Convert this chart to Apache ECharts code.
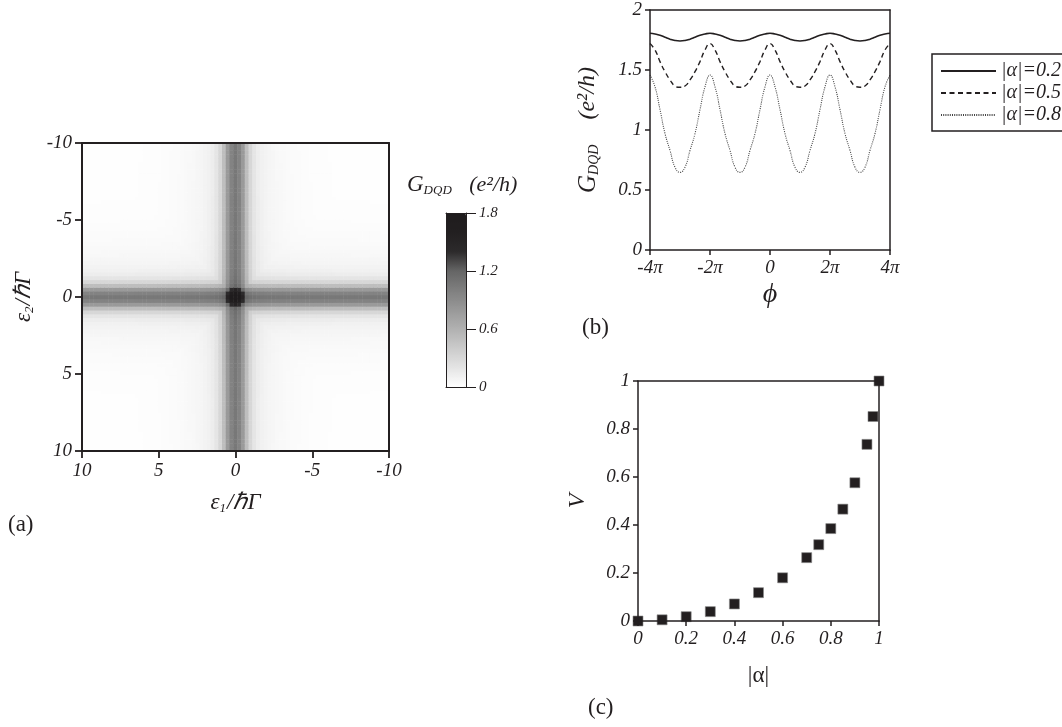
<!DOCTYPE html>
<html><head><meta charset="utf-8">
<script src="https://cdn.jsdelivr.net/npm/echarts@6/dist/echarts.min.js"></script>
<style>html,body{margin:0;padding:0;background:#fff}#c{width:1062px;height:727px}</style>
</head><body><div id="c"></div>
<script>
// ---------- data: panel (a) ----------
const epsTicks = [10, 5, 0, -5, -10];
// conductance across a band vs. distance from its centre line (steps of 0.25 in eps/hbar Gamma)
const bandProfile = [1.05, 0.97, 0.78, 0.50, 0.30, 0.19, 0.135, 0.105, 0.085, 0.072,
  0.062, 0.054, 0.047, 0.041, 0.036, 0.032, 0.028, 0.025, 0.022, 0.019,
  0.017, 0.015, 0.013, 0.012, 0.011, 0.010, 0.009, 0.008, 0.008, 0.007,
  0.007, 0.006, 0.006, 0.005, 0.005, 0.005, 0.004, 0.004, 0.004, 0.003, 0.003];
// resonance dot at the crossing (7x7 cells around the centre, 0 = use band value)
const dotPatch = [
  [0,    0,    1.05, 1.10, 1.05, 0,    0   ],
  [0,    1.15, 1.40, 1.52, 1.40, 1.15, 0   ],
  [1.05, 1.40, 1.70, 1.78, 1.70, 1.40, 1.05],
  [1.10, 1.52, 1.78, 1.80, 1.78, 1.52, 1.10],
  [1.05, 1.40, 1.70, 1.78, 1.70, 1.40, 1.05],
  [0,    1.15, 1.40, 1.52, 1.40, 1.15, 0   ],
  [0,    0,    1.05, 1.10, 1.05, 0,    0   ]
];
const colorbarTicks = [0, 0.6, 1.2, 1.8];
const grayStops = ['#ffffff','#e4e4e4','#cbcbcb','#b1b1b1','#989898','#7f7f7f','#656565','#2c2a2b','#221f20','#1f1c1d'];

// ---------- data: panel (b) ----------
// phi in units of pi/6, from -4pi to 4pi
const phiSixths = [-24,-23,-22,-21,-20,-19,-18,-17,-16,-15,-14,-13,-12,-11,-10,-9,-8,-7,-6,-5,-4,-3,-2,-1,0,
  1,2,3,4,5,6,7,8,9,10,11,12,13,14,15,16,17,18,19,20,21,22,23,24];
const gAlpha02 = [1.806,1.800,1.790,1.773,1.757,1.746,1.742,1.746,1.757,1.773,1.790,1.800,
  1.806,1.800,1.790,1.773,1.757,1.746,1.742,1.746,1.757,1.773,1.790,1.800,
  1.806,1.800,1.790,1.773,1.757,1.746,1.742,1.746,1.757,1.773,1.790,1.800,
  1.806,1.800,1.790,1.773,1.757,1.746,1.742,1.746,1.757,1.773,1.790,1.800,1.806];
const gAlpha05 = [1.720,1.667,1.570,1.486,1.417,1.367,1.356,1.367,1.417,1.486,1.570,1.667,
  1.720,1.667,1.570,1.486,1.417,1.367,1.356,1.367,1.417,1.486,1.570,1.667,
  1.720,1.667,1.570,1.486,1.417,1.367,1.356,1.367,1.417,1.486,1.570,1.667,
  1.720,1.667,1.570,1.486,1.417,1.367,1.356,1.367,1.417,1.486,1.570,1.667,1.720];
const gAlpha08 = [1.458,1.360,1.170,0.970,0.830,0.690,0.647,0.690,0.830,0.970,1.170,1.360,
  1.458,1.360,1.170,0.970,0.830,0.690,0.647,0.690,0.830,0.970,1.170,1.360,
  1.458,1.360,1.170,0.970,0.830,0.690,0.647,0.690,0.830,0.970,1.170,1.360,
  1.458,1.360,1.170,0.970,0.830,0.690,0.647,0.690,0.830,0.970,1.170,1.360,1.458];
const seriesNames = ['|α|=0.2', '|α|=0.5', '|α|=0.8'];

// ---------- data: panel (c) ----------
const alphaVals = [0, 0.1, 0.2, 0.3, 0.4, 0.5, 0.6, 0.7, 0.75, 0.8, 0.85, 0.9, 0.95, 0.975, 1];
const visibility = [0, 0.005, 0.018, 0.039, 0.071, 0.118, 0.180, 0.264, 0.318, 0.385, 0.466, 0.576, 0.736, 0.852, 1.0];

// ---------- build ----------
const N = bandProfile.length - 1;           // 40 cells per half
const cats = [];
for (let i = -N; i <= N; i++) cats.push(String(-i * 0.25));
const cells = [];
for (let ix = 0; ix <= 2 * N; ix++) {
  for (let iy = 0; iy <= 2 * N; iy++) {
    const dx = Math.abs(ix - N), dy = Math.abs(iy - N);
    const a = bandProfile[dx], b = bandProfile[dy];
    let v = Math.max(a, b) + 0.25 * Math.min(a, b);
    if (dx <= 3 && dy <= 3) {
      const p = dotPatch[iy - N + 3][ix - N + 3];
      if (p > v) v = p;
    }
    cells.push([ix, iy, Math.min(v, 1.8)]);
  }
}
const zip = (xs, ys) => xs.map((x, i) => [x, ys[i]]);

const FONT = 'Liberation Serif';
const INK = '#231f20';
const lab = (size) => ({ fontFamily: FONT, fontStyle: 'italic', fontWeight: 'normal', fontSize: size, color: INK });
const lineOnly = (extra) => Object.assign({
  type: 'value', min: 0, max: 1, z: 10,
  axisLine: { show: true, onZero: false, lineStyle: { color: INK, width: 1.5 } },
  axisTick: { show: false }, axisLabel: { show: false }, splitLine: { show: false }
}, extra);
const mkRich = (big, small, lh) => ({
  a: { fontFamily: FONT, fontStyle: 'italic', fontWeight: 'normal', fontSize: big, color: INK, lineHeight: lh, verticalAlign: 'middle' },
  s: { fontFamily: FONT, fontStyle: 'italic', fontWeight: 'normal', fontSize: small, color: INK, verticalAlign: 'bottom', lineHeight: small, padding: [0, 1, 2, 0] },
  u: { fontFamily: FONT, fontStyle: 'italic', fontWeight: 'normal', fontSize: big - 1, color: INK, lineHeight: lh, verticalAlign: 'middle' }
});
const panelLabel = { fontFamily: FONT, fontSize: 23, fontWeight: 'normal', color: INK };

const chart = echarts.init(document.getElementById('c'), null, { renderer: 'canvas' });
chart.setOption({
  animation: false,
  backgroundColor: '#fff',
  title: [
    { text: '(a)', left: 8, top: 513, padding: 0, textStyle: panelLabel },
    { text: '(b)', left: 582, top: 316, padding: 0, textStyle: panelLabel },
    { text: '(c)', left: 588, top: 696, padding: 0, textStyle: panelLabel },
    { text: '{a|G}{s|DQD}{u|   (e²/h)}', left: 407, top: 171, padding: 0, textStyle: { rich: mkRich(23, 13, 28) } }
  ],
  legend: {
    data: seriesNames, orient: 'vertical', left: 932, top: 54,
    itemWidth: 55, itemHeight: 12, itemGap: 0,
    itemStyle: { opacity: 0 },
    borderColor: INK, borderWidth: 1.5, padding: [6, 30, 5, 8],
    textStyle: Object.assign(lab(20), { lineHeight: 22 })
  },
  visualMap: {
    type: 'continuous', seriesIndex: 0, min: 0, max: 1.8, calculable: false,
    show: true, left: 446, top: 213, itemWidth: 20, itemHeight: 174, padding: 0,
    text: null, inRange: { color: grayStops }
  },
  grid: [
    { left: 82, top: 143, width: 307, height: 308 },
    { left: 82, top: 143, width: 307, height: 308 },
    { left: 446, top: 213, width: 20, height: 174 },
    { left: 650, top: 10, width: 240, height: 240 },
    { left: 638, top: 381, width: 241, height: 240 }
  ],
  xAxis: [
    { type: 'category', gridIndex: 0, data: cats, show: false },
    { type: 'value', gridIndex: 1, min: -10, max: 10, interval: 5, inverse: true, position: 'bottom', z: 10,
      axisLine: { onZero: false, lineStyle: { color: INK, width: 2 } },
      axisTick: { length: 7, lineStyle: { color: INK, width: 1.8 } },
      axisLabel: Object.assign(lab(19), { margin: 10 }), splitLine: { show: false },
      name: '{a|ε}{s|1}{a|/ℏΓ}', nameLocation: 'middle', nameGap: 38, nameTextStyle: { rich: mkRich(23, 13, 28) } },
    lineOnly({ gridIndex: 1, position: 'top', axisLine: { onZero: false, lineStyle: { color: INK, width: 2 } } }),
    lineOnly({ gridIndex: 2, position: 'bottom', axisLine: { onZero: false, lineStyle: { color: INK, width: 1 } } }),
    lineOnly({ gridIndex: 2, position: 'top', axisLine: { onZero: false, lineStyle: { color: INK, width: 1 } } }),
    { type: 'value', gridIndex: 3, min: -24, max: 24, interval: 12, z: 10,
      axisLine: { onZero: false, lineStyle: { color: INK, width: 1.5 } },
      axisTick: { length: 5, lineStyle: { color: INK, width: 1.5 } },
      axisLabel: Object.assign(lab(19), { margin: 8, formatter: v => v === 0 ? '0' : (v / 6) + 'π' }),
      splitLine: { show: false },
      name: 'ϕ', nameLocation: 'middle', nameGap: 31, nameTextStyle: lab(28) },
    lineOnly({ gridIndex: 3, position: 'top' }),
    { type: 'value', gridIndex: 4, min: 0, max: 1, interval: 0.2, z: 10,
      axisLine: { onZero: false, lineStyle: { color: INK, width: 1.5 } },
      axisTick: { length: 5, lineStyle: { color: INK, width: 1.5 } },
      axisLabel: Object.assign(lab(19), { margin: 8, formatter: v => (v === 0 || v === 1) ? String(v) : v.toFixed(1) }),
      splitLine: { show: false },
      name: '|α|', nameLocation: 'middle', nameGap: 43, nameTextStyle: { fontFamily: FONT, fontSize: 23, color: INK } },
    lineOnly({ gridIndex: 4, position: 'top' })
  ],
  yAxis: [
    { type: 'category', gridIndex: 0, data: cats, show: false },
    { type: 'value', gridIndex: 1, min: -10, max: 10, interval: 5, inverse: true, position: 'left', z: 10,
      axisLine: { onZero: false, lineStyle: { color: INK, width: 2 } },
      axisTick: { length: 7, lineStyle: { color: INK, width: 1.8 } },
      axisLabel: Object.assign(lab(19), { margin: 10 }), splitLine: { show: false },
      name: '{a|ε}{s|2}{a|/ℏΓ}', nameLocation: 'middle', nameGap: 44, nameTextStyle: { rich: mkRich(23, 13, 28) } },
    lineOnly({ gridIndex: 1, position: 'right', axisLine: { onZero: false, lineStyle: { color: INK, width: 2 } } }),
    { type: 'value', gridIndex: 2, min: 0, max: 1.8, interval: 0.6, position: 'right', z: 10,
      axisLine: { onZero: false, lineStyle: { color: INK, width: 1 } },
      axisTick: { length: 10, lineStyle: { color: INK, width: 1 } },
      axisLabel: Object.assign(lab(15), { margin: 13, formatter: v => colorbarTicks.includes(+v.toFixed(1)) ? String(+v.toFixed(1)) : '' }),
      splitLine: { show: false } },
    lineOnly({ gridIndex: 2, position: 'left', axisLine: { onZero: false, lineStyle: { color: INK, width: 1 } } }),
    { type: 'value', gridIndex: 3, min: 0, max: 2, interval: 0.5, z: 10,
      axisLine: { onZero: false, lineStyle: { color: INK, width: 1.5 } },
      axisTick: { length: 5, lineStyle: { color: INK, width: 1.5 } },
      axisLabel: Object.assign(lab(19), { margin: 8 }), splitLine: { show: false },
      name: '{a|G}{s|DQD}{u|    (e²/h)}', nameLocation: 'middle', nameGap: 47, nameTextStyle: { rich: mkRich(25, 14, 30) } },
    lineOnly({ gridIndex: 3, position: 'right' }),
    { type: 'value', gridIndex: 4, min: 0, max: 1, interval: 0.2, z: 10,
      axisLine: { onZero: false, lineStyle: { color: INK, width: 1.5 } },
      axisTick: { length: 5, lineStyle: { color: INK, width: 1.5 } },
      axisLabel: Object.assign(lab(19), { margin: 8, formatter: v => (v === 0 || v === 1) ? String(v) : v.toFixed(1) }),
      splitLine: { show: false },
      name: 'V', nameLocation: 'middle', nameGap: 48, nameTextStyle: lab(24) },
    lineOnly({ gridIndex: 4, position: 'right' })
  ],
  series: [
    { type: 'heatmap', xAxisIndex: 0, yAxisIndex: 0, data: cells, progressive: 0,
      itemStyle: { borderWidth: 0 }, emphasis: { disabled: true } },
    { name: seriesNames[0], type: 'line', xAxisIndex: 5, yAxisIndex: 5, data: zip(phiSixths, gAlpha02),
      smooth: true, symbol: 'none', lineStyle: { color: INK, width: 1.6, type: 'solid' }, itemStyle: { color: INK } },
    { name: seriesNames[1], type: 'line', xAxisIndex: 5, yAxisIndex: 5, data: zip(phiSixths, gAlpha05),
      smooth: true, symbol: 'none', lineStyle: { color: INK, width: 1.4, type: [5, 3.5] }, itemStyle: { color: INK } },
    { name: seriesNames[2], type: 'line', xAxisIndex: 5, yAxisIndex: 5, data: zip(phiSixths, gAlpha08),
      smooth: true, symbol: 'none', lineStyle: { color: '#444', width: 1.1, type: [1, 1.2] }, itemStyle: { color: '#444' } },
    { type: 'scatter', xAxisIndex: 7, yAxisIndex: 7, data: zip(alphaVals, visibility), clip: false,
      symbol: 'rect', symbolSize: 10, itemStyle: { color: INK, borderColor: '#8a8a8a', borderWidth: 0.6, opacity: 1 } }
  ]
});
</script></body></html>
